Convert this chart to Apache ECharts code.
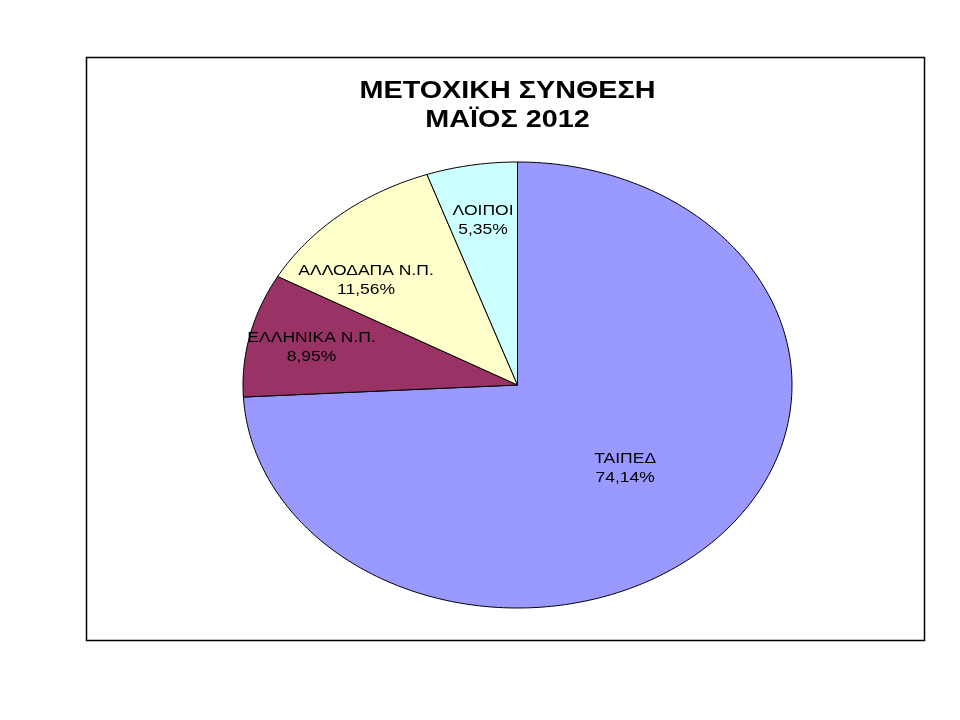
<!DOCTYPE html>
<html>
<head>
<meta charset="utf-8">
<script src="https://cdn.jsdelivr.net/npm/echarts@6/dist/echarts.min.js"></script>
<style>
html,body{margin:0;padding:0;background:#fff;}
#main{width:960px;height:720px;}
</style>
</head>
<body>
<div id="main"></div>
<script>
// ---- data ----
var categories = ['ΤΑΙΠΕΔ', 'ΕΛΛΗΝΙΚΑ Ν.Π.', 'ΑΛΛΟΔΑΠΑ Ν.Π.', 'ΛΟΙΠΟΙ'];
var values = [74.14, 8.95, 11.56, 5.35];
var valueLabels = ['74,14%', '8,95%', '11,56%', '5,35%'];
var titleLines = ['ΜΕΤΟΧΙΚΗ ΣΥΝΘΕΣΗ', 'ΜΑΪΟΣ 2012'];

// ---- styles / layout ----
var colors = ['#9999FF', '#993366', '#FFFFCC', '#CCFFFF'];
var labelRadius = [0.54, 0.77, 0.726, 0.75];
var labelAngleShift = [0, 0, -9.4, 0];
var FONT = 'Arial, "Liberation Sans", sans-serif';
var TEXT_STRETCH = 1.25;

var total = values.reduce(function (a, b) { return a + b; }, 0);
var starts = [];
var acc = 0;
for (var i = 0; i < values.length; i++) { starts.push(acc); acc += values[i]; }

var seriesData = values.map(function (v, i) { return [i, v]; });

function renderItem(params, api) {
  var idx = api.value(0);
  var v = api.value(1);
  var a0 = starts[idx] / total * Math.PI * 2;
  var a1 = (starts[idx] + v) / total * Math.PI * 2;
  var pts = [api.coord([0, 0])];
  var steps = Math.max(8, Math.ceil((a1 - a0) / (Math.PI / 180)));
  for (var s = 0; s <= steps; s++) {
    var a = a0 + (a1 - a0) * s / steps;
    pts.push(api.coord([Math.sin(a), Math.cos(a)]));
  }
  var am = (a0 + a1) / 2 + labelAngleShift[idx] * Math.PI / 180;
  var r = labelRadius[idx];
  var lp = api.coord([r * Math.sin(am), r * Math.cos(am)]);
  return {
    type: 'group',
    children: [
      {
        type: 'polygon',
        shape: { points: pts },
        style: { fill: colors[idx], stroke: '#000', lineWidth: 1 }
      },
      {
        type: 'text',
        x: lp[0], y: lp[1] + 1,
        scaleX: TEXT_STRETCH,
        style: {
          text: categories[idx] + '\n' + valueLabels[idx],
          fill: '#000',
          font: '14px ' + FONT,
          align: 'center',
          verticalAlign: 'middle',
          lineHeight: 19
        },
        z2: 10
      }
    ]
  };
}

var chart = echarts.init(document.getElementById('main'));
chart.setOption({
  backgroundColor: '#fff',
  animation: false,
  graphic: [
    {
      type: 'rect',
      shape: { x: 86.5, y: 57.5, width: 838, height: 583 },
      style: { fill: 'none', stroke: '#000', lineWidth: 1.5 },
      z: -1
    },
    {
      type: 'text',
      x: 507.5, y: 106.5,
      scaleX: TEXT_STRETCH,
      style: {
        text: titleLines.join('\n'),
        font: 'bold 23px ' + FONT,
        fill: '#000',
        align: 'center',
        verticalAlign: 'middle',
        lineHeight: 29
      }
    }
  ],
  grid: { left: 243, top: 162, width: 549, height: 446 },
  xAxis: { type: 'value', min: -1, max: 1, show: false },
  yAxis: { type: 'value', min: -1, max: 1, show: false },
  series: [{
    type: 'custom',
    renderItem: renderItem,
    data: seriesData,
    encode: { x: -1, y: -1 },
    clip: false
  }]
});
</script>
</body>
</html>
